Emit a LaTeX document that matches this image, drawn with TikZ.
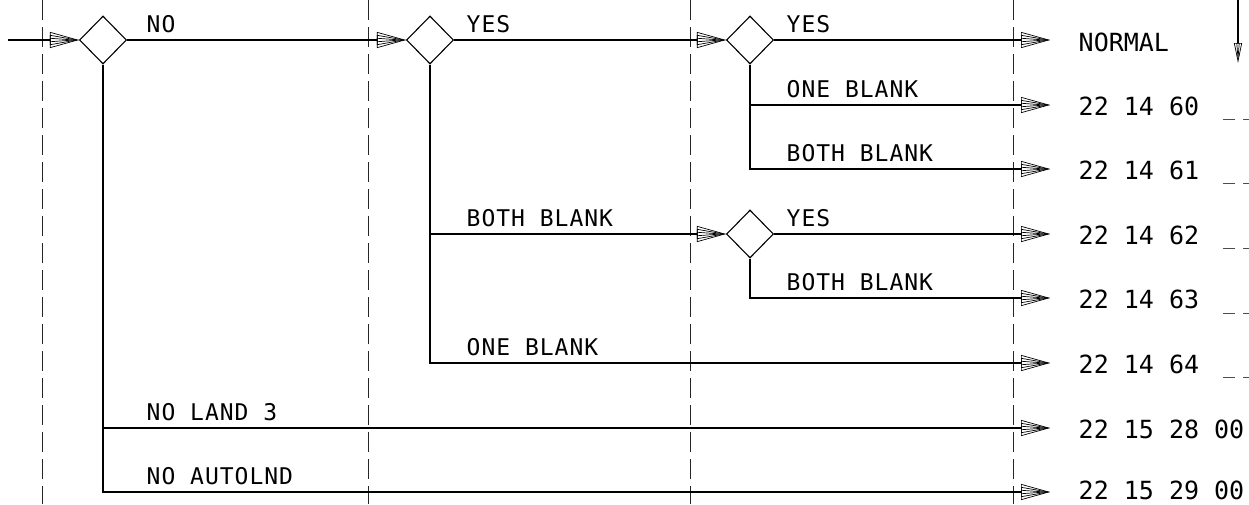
\documentclass[tikz,border=0pt]{standalone}
\usepackage{fontspec}
\usetikzlibrary{arrows.meta,shapes.geometric}
\newfontfamily\outfont{DejaVu Sans Mono}
\newfontfamily\lblfont[LetterSpace=4.3]{DejaVu Sans Mono}
\tikzset{
  flow/.style={-{Triangle[open,line width=0.7pt,length=29pt,width=16pt,sep=-29pt]
                 Triangle[open,line width=0.7pt,length=29pt,width=10pt,sep=-29pt]
                 Triangle[open,line width=0.7pt,length=29pt,width=4pt]}},
  downflow/.style={-{Triangle[open,line width=0.7pt,length=20pt,width=8pt,sep=-20pt]
                     Triangle[open,line width=0.7pt,length=20pt,width=3pt]}},
  decision/.style={diamond, draw, line width=1.1pt, aspect=1, inner sep=0pt, minimum width=47pt, minimum height=48pt},
  colline/.style={line width=1pt, black!85, dash pattern=on 20pt off 7pt},
  tickline/.style={line width=0.9pt, black!70, dash pattern=on 12pt off 8pt},
  result/.style={anchor=base west, inner sep=0pt, font=\outfont\fontsize{25}{30}\selectfont},
  branch/.style={anchor=base west, inner sep=0pt, font=\lblfont\fontsize{23}{28}\selectfont}
}
\begin{document}
\begin{tikzpicture}[x=1pt, y=-1pt, line width=1.4pt]
  \useasboundingbox (0,0) rectangle (1249,504);

  % Column lines
  \foreach \x in {42,368,690,1013}
    \draw[colline] (\x,0) -- (\x,504);

  % Decisions
  \node[decision] (d1) at (103,40) {};
  \node[decision] (d2) at (430,40) {};
  \node[decision] (d3) at (750,40) {};
  \node[decision] (d4) at (750,234) {};

  % Ends of the lines
  \coordinate (in) at (8,40);
  \foreach \i/\y in {0/40, 1/105, 2/169, 3/234, 4/298, 5/363, 6/428, 7/492}
    \coordinate (t\i) at (1050,\y);

  % Results
  \node[result] (r0) at (1078,51) {NORMAL};
  \node[result] (r1) at (1078,115.5) {22 14 60};
  \node[result] (r2) at (1078,179.5) {22 14 61};
  \node[result] (r3) at (1078,244.5) {22 14 62};
  \node[result] (r4) at (1078,308.5) {22 14 63};
  \node[result] (r5) at (1078,373.5) {22 14 64};
  \node[result] (r6) at (1078,438.5) {22 15 28 00};
  \node[result] (r7) at (1078,499.5) {22 15 29 00};

  % Main line
  \draw[flow] (in) -- (d1.west);
  \draw[flow] (d1.east) -- (d2.west);
  \draw[flow] (d2.east) -- (d3.west);
  \draw[flow] (d3.east) -- (t0);

  % Branches
  \draw[flow] (d3.south) |- (t1);
  \draw[flow] (d3.south) |- (t2);
  \draw[flow] (d2.south) |- (d4.west);
  \draw[flow] (d4.east) -- (t3);
  \draw[flow] (d4.south) |- (t4);
  \draw[flow] (d2.south) |- (t5);
  \draw[flow] (d1.south) |- (t6);
  \draw[flow] (d1.south) |- (t7);

  % Labels
  \node[branch] (l1) at (146,32.5) {NO};
  \node[branch] (l2) at (466,32.5) {YES};
  \node[branch] (l3) at (786,32.5) {YES};
  \node[branch] (l4) at (786,97.5) {ONE BLANK};
  \node[branch] (l5) at (786,161.5) {BOTH BLANK};
  \node[branch] (l6) at (466,226.5) {BOTH BLANK};
  \node[branch] (l7) at (786,226.5) {YES};
  \node[branch] (l8) at (786,290.5) {BOTH BLANK};
  \node[branch] (l9) at (466,355.5) {ONE BLANK};
  \node[branch] (l10) at (146,420.5) {NO LAND 3};
  \node[branch] (l11) at (146,484.5) {NO AUTOLND};

  % Top right arrow
  \coordinate (vtop) at (1238,0);
  \coordinate (vtip) at (1238,63);
  \draw[downflow, line width=1.1pt] (vtop) -- (vtip);

  % Cut off marks
  \foreach \y in {119,183,248,313,377}
    \draw[tickline] (1223,\y) -- (1249,\y);
\end{tikzpicture}
\end{document}
